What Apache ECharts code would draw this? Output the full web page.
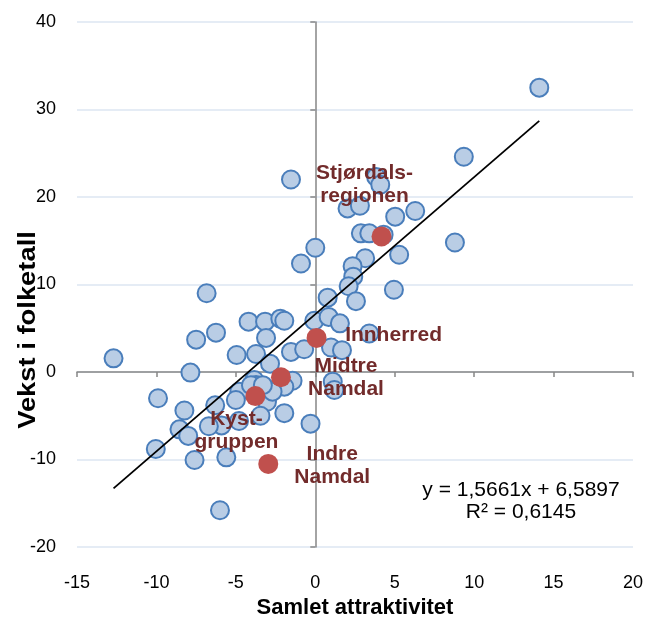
<!DOCTYPE html>
<html>
<head>
<meta charset="utf-8">
<script src="https://cdn.jsdelivr.net/npm/echarts@6/dist/echarts.min.js"></script>
<style>
  html, body { margin: 0; padding: 0; background: #fff; }
  #chart { width: 651px; height: 621px; }
</style>
</head>
<body>
<div id="chart"></div>
<script>
{
    // kommuner: [samlet attraktivitet, vekst i folketall]
    const kommuner = [
        [14.1, 32.5], [9.35, 24.6], [-1.53, 22.0], [3.83, 22.3], [4.09, 21.4],
        [2.03, 18.7], [2.81, 19.0], [5.03, 17.75], [6.29, 18.4], [2.87, 15.85],
        [3.4, 15.85], [4.3, 15.7], [8.79, 14.8], [0.0, 14.2], [5.28, 13.4],
        [-0.9, 12.4], [3.14, 13.0], [2.35, 12.1], [2.39, 10.9], [2.1, 9.8],
        [4.95, 9.4], [2.56, 8.1], [0.78, 8.5], [-6.84, 9.0], [-4.2, 5.75],
        [-3.16, 5.75], [-2.2, 6.1], [-1.95, 5.86], [-0.06, 5.86], [0.84, 6.3],
        [1.55, 5.56], [-6.25, 4.5], [-7.5, 3.7], [-3.1, 3.9], [3.4, 4.4],
        [-4.95, 1.94], [-3.73, 2.06], [-2.85, 0.95], [-1.53, 2.3], [-0.7, 2.6],
        [0.99, 2.8], [1.68, 2.5], [-12.7, 1.56], [-7.86, -0.07], [-1.43, -1.0],
        [-1.95, -1.68], [-3.84, -0.91], [-3.73, -1.49], [-2.9, -2.06], [-4.78, -2.25],
        [-3.04, -3.4], [-5.0, -3.2], [-6.3, -3.8], [-8.24, -4.4], [-9.9, -3.0],
        [-1.95, -4.7], [-3.45, -5.0], [-4.8, -5.6], [-5.9, -6.1], [-6.7, -6.2],
        [-8.55, -6.55], [-8.0, -7.3], [-0.3, -5.9], [1.1, -1.1], [1.2, -2.06],
        [-10.04, -8.8], [-7.6, -10.06], [-5.6, -9.75], [-6.0, -15.8], [-2.69, -2.25],
        [-4.05, -1.5], [-3.3, -1.5]
    ];

    const regionNames = ['Stjørdals-\nregionen', 'Innherred', 'Midtre\nNamdal', 'Kyst-\ngruppen', 'Indre\nNamdal'];
    const regionX = [4.17, 0.08, -2.16, -3.77, -2.96];
    const regionY = [15.5, 3.9, -0.6, -2.75, -10.5];

    // lineær trend (endepunkter lest av figuren)
    const trendLine = [[-12.7, -13.3], [14.1, 28.7]];
    const trendText = 'y = 1,5661x + 6,5897\nR² = 0,6145';

    const xTicks = { min: -15, max: 20, interval: 5 };
    const yTicks = { min: -20, max: 40, interval: 10 };

    // label offsets for the region names (px)
    const labelOffsets = [[-17, -52], [77, -3], [65, 0], [-19, 35], [64, 2]];

    var dom = document.querySelector('#chart');
    var myChart = echarts.init(dom);

    const font = 'Arial, "Liberation Sans", sans-serif';
    const axisGray = '#868686';

    const regionData = regionNames.map((name, i) => ({
        name: name,
        value: [regionX[i], regionY[i]],
        label: { offset: labelOffsets[i] }
    }));

    const option = {
        animation: false,
        backgroundColor: '#fff',
        grid: { left: 77, right: 18, top: 22, bottom: 74, containLabel: false, outerBoundsMode: 'none' },
        xAxis: [
            {
                type: 'value',
                min: xTicks.min, max: xTicks.max, interval: xTicks.interval,
                position: 'bottom',
                axisLine: { show: false },
                axisTick: { show: false },
                splitLine: { show: false },
                axisLabel: { fontFamily: font, fontSize: 18, color: '#000', margin: 27 },
                name: 'Samlet attraktivitet',
                nameLocation: 'middle',
                nameGap: 50,
                nameTextStyle: { fontFamily: font, fontSize: 22, fontWeight: 'bold', color: '#000' }
            },
            {
                type: 'value',
                min: xTicks.min, max: xTicks.max, interval: xTicks.interval,
                position: 'bottom',
                axisLine: { show: true, onZero: true, lineStyle: { color: axisGray, width: 1.5 } },
                axisTick: { show: true, length: 5, lineStyle: { color: axisGray, width: 1.5 } },
                axisLabel: { show: false },
                splitLine: { show: false }
            }
        ],
        yAxis: [
            {
                type: 'value',
                min: yTicks.min, max: yTicks.max, interval: yTicks.interval,
                position: 'left',
                axisLine: { show: false },
                axisTick: { show: false },
                splitLine: { show: true, lineStyle: { color: '#dce6f2', width: 1.5 } },
                axisLabel: { fontFamily: font, fontSize: 18, color: '#000', margin: 21 }
            },
            {
                type: 'value',
                min: yTicks.min, max: yTicks.max, interval: yTicks.interval,
                position: 'left',
                axisLine: { show: true, onZero: true, onZeroAxisIndex: 1, lineStyle: { color: axisGray, width: 1.5 } },
                axisTick: { show: true, length: 5, lineStyle: { color: axisGray, width: 1.5 } },
                axisLabel: { show: false },
                splitLine: { show: false }
            }
        ],
        graphic: [
            {
                type: 'text',
                x: 28,
                y: 330,
                rotation: Math.PI / 2,
                scaleX: 1.14,
                style: {
                    text: 'Vekst i folketall',
                    font: 'bold 24px ' + font,
                    fill: '#000',
                    align: 'center',
                    verticalAlign: 'middle'
                }
            },
            {
                type: 'text',
                x: 521,
                y: 501,
                style: {
                    text: trendText,
                    font: '21px ' + font,
                    fill: '#000',
                    align: 'center',
                    verticalAlign: 'middle',
                    lineHeight: 22
                }
            }
        ],
        series: [
            {
                name: 'Kommuner',
                type: 'scatter',
                xAxisIndex: 0, yAxisIndex: 0,
                symbolSize: 18,
                itemStyle: { color: '#b9cde5', borderColor: '#4a7ebb', borderWidth: 2, opacity: 1 },
                data: kommuner,
                z: 2
            },
            {
                name: 'Trend',
                type: 'line',
                xAxisIndex: 0, yAxisIndex: 0,
                symbol: 'none',
                lineStyle: { color: '#000', width: 1.8 },
                data: trendLine,
                z: 3
            },
            {
                name: 'Regioner',
                type: 'scatter',
                xAxisIndex: 0, yAxisIndex: 0,
                symbolSize: 20,
                itemStyle: { color: '#c0504d', opacity: 1 },
                label: {
                    show: true,
                    position: 'inside',
                    formatter: p => p.name,
                    fontFamily: font,
                    fontSize: 21,
                    fontWeight: 'bold',
                    color: '#722b2b',
                    align: 'center',
                    lineHeight: 23
                },
                data: regionData,
                z: 4
            }
        ]
    };
    myChart.setOption(option);
}
</script>
</body>
</html>
